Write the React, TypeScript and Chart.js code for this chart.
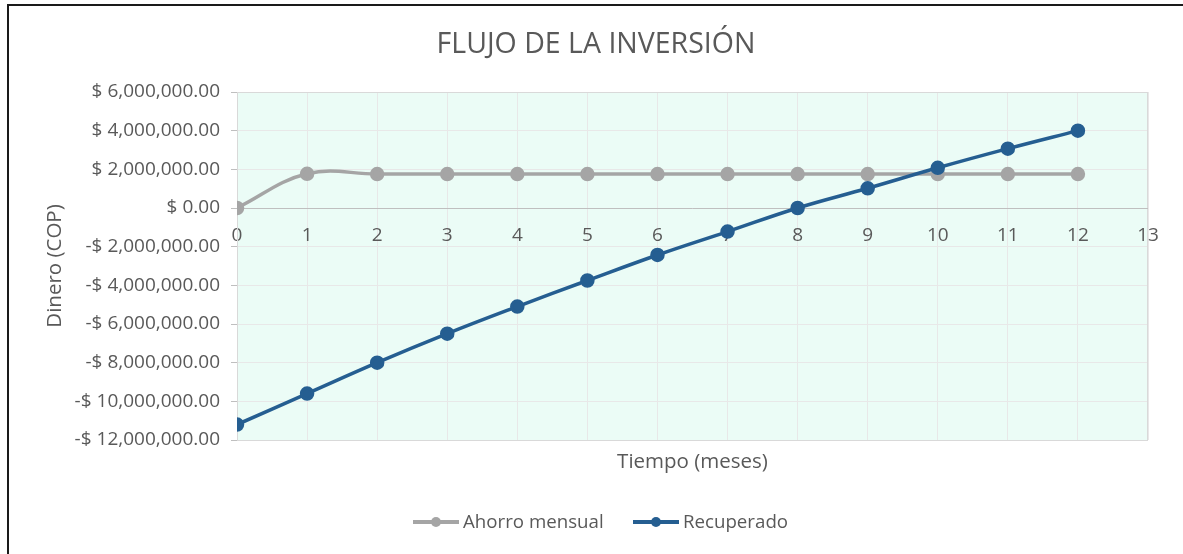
import React, { useEffect, useRef } from "react";
import { Chart, registerables } from "chart.js";

Chart.register(...registerables);

const months = [0, 1, 2, 3, 4, 5, 6, 7, 8, 9, 10, 11, 12];
const ahorroMensual = [0, 1770000, 1755000, 1755000, 1755000, 1755000, 1755000, 1755000, 1755000, 1755000, 1755000, 1755000, 1755000];
const recuperado = [-11200000, -9600000, -8000000, -6500000, -5100000, -3750000, -2430000, -1220000, 0, 1020000, 2080000, 3070000, 4000000];
const seriesNames = ["Ahorro mensual", "Recuperado"];
const seriesColors = ["#A5A5A5", "#255E91"];
const titleText = "FLUJO DE LA INVERSIÓN";
const xTitle = "Tiempo (meses)";
const yTitle = "Dinero (COP)";
const yMin = -12000000;
const yMax = 6000000;
const yStep = 2000000;
const xMin = 0;
const xMax = 13;

const FONT = "'Open Sans', sans-serif";
const TEXT = "#595959";

function fmtMoney(v: number): string {
  const n = Math.abs(v);
  const s = n.toLocaleString("en-US", { minimumFractionDigits: 2, maximumFractionDigits: 2 });
  return (v < 0 ? "-" : "") + "$ " + s;
}

const decorPlugin = {
  id: "decor",
  beforeDraw(chart: any) {
    const { ctx, chartArea, width, height } = chart;
    ctx.save();
    ctx.fillStyle = "#FFFFFF";
    ctx.fillRect(0, 0, width, height);
    ctx.fillStyle = "#1A1A1A";
    ctx.fillRect(7, 4, 2, height - 4);
    ctx.fillRect(7, 4, width - 7, 2);
    ctx.fillStyle = "#EBFCF6";
    ctx.fillRect(chartArea.left, chartArea.top, chartArea.right - chartArea.left, chartArea.bottom - chartArea.top);
    ctx.restore();
  },
  beforeDatasetsDraw(chart: any) {
    const { ctx, chartArea } = chart;
    ctx.save();
    ctx.strokeStyle = "#D9D9D9";
    ctx.lineWidth = 1;
    ctx.strokeRect(chartArea.left + 0.5, chartArea.top + 0.5, chartArea.right - chartArea.left - 1, chartArea.bottom - chartArea.top);
    const y0 = Math.round(chart.scales.y.getPixelForValue(0)) + 0.5;
    ctx.strokeStyle = "#BFBFBF";
    ctx.beginPath();
    ctx.moveTo(chartArea.left, y0);
    ctx.lineTo(chartArea.right, y0);
    ctx.stroke();
    ctx.restore();
  },
  afterDraw(chart: any) {
    const { ctx, chartArea, width, height } = chart;
    ctx.save();
    ctx.fillStyle = "#FFFFFF";
    ctx.fillRect(1160, 6, width - 1160, height - 6);
    ctx.fillStyle = TEXT;
    ctx.textAlign = "center";
    ctx.textBaseline = "middle";
    ctx.font = `28.5px ${FONT}`;
    ctx.fillText(titleText, 596, 45);
    ctx.font = `20.5px ${FONT}`;
    ctx.fillText(xTitle, (chartArea.left + chartArea.right) / 2, 462);
    ctx.save();
    ctx.translate(55, (chartArea.top + chartArea.bottom) / 2);
    ctx.rotate(-Math.PI / 2);
    ctx.fillText(yTitle, 0, 0);
    ctx.restore();
    ctx.font = `18.7px ${FONT}`;
    ctx.textAlign = "left";
    const items = [
      { x: 413, name: seriesNames[0], color: seriesColors[0] },
      { x: 633, name: seriesNames[1], color: seriesColors[1] },
    ];
    const ly = 522;
    for (const it of items) {
      ctx.strokeStyle = it.color;
      ctx.lineWidth = 4;
      ctx.beginPath();
      ctx.moveTo(it.x, ly);
      ctx.lineTo(it.x + 46, ly);
      ctx.stroke();
      ctx.fillStyle = it.color;
      ctx.beginPath();
      ctx.arc(it.x + 23, ly, 5, 0, Math.PI * 2);
      ctx.fill();
      ctx.fillStyle = TEXT;
      ctx.fillText(it.name, it.x + 50, ly + 1);
    }
    ctx.restore();
  },
};

export default function App() {
  const ref = useRef<HTMLCanvasElement | null>(null);
  useEffect(() => {
    if (!ref.current) return;
    document.body.style.margin = "0";
    document.body.style.overflow = "hidden";
    const chart = new Chart(ref.current, {
      type: "line",
      data: {
        datasets: [
          {
            label: seriesNames[0],
            data: months.map((m, i) => ({ x: m, y: ahorroMensual[i] })),
            borderColor: seriesColors[0],
            backgroundColor: seriesColors[0],
            borderWidth: 3.5,
            pointRadius: 5.5,
            pointHoverRadius: 5.5,
            tension: 0.4,
            order: 1,
          },
          {
            label: seriesNames[1],
            data: months.map((m, i) => ({ x: m, y: recuperado[i] })),
            borderColor: seriesColors[1],
            backgroundColor: seriesColors[1],
            borderWidth: 3.5,
            pointRadius: 5.5,
            pointHoverRadius: 5.5,
            tension: 0.4,
            order: 0,
          },
        ],
      },
      options: {
        animation: false,
        responsive: false,
        maintainAspectRatio: false,
        devicePixelRatio: 1,
        layout: { padding: { left: 0, right: 35, top: 92, bottom: 114 } },
        plugins: {
          legend: { display: false },
          title: { display: false },
          tooltip: { enabled: false },
        },
        scales: {
          x: {
            type: "linear",
            position: { y: 0 } as any,
            min: xMin,
            max: xMax,
            ticks: {
              stepSize: 1,
              autoSkip: false,
              maxRotation: 0,
              padding: 16,
              color: TEXT,
              font: { family: FONT, size: 19 },
            },
            grid: { color: "#E8E8E8", drawTicks: false },
            border: { display: false },
          },
          y: {
            type: "linear",
            min: yMin,
            max: yMax,
            afterFit(scale: any) {
              scale.width = 237;
            },
            ticks: {
              stepSize: yStep,
              padding: 11,
              color: TEXT,
              font: { family: FONT, size: 19 },
              callback: (v: any) => fmtMoney(Number(v)),
            },
            grid: { color: "#E8E8E8", tickColor: "#BFBFBF", tickLength: 6 },
            border: { display: true, color: "#D0D0D0" },
          },
        },
      },
      plugins: [decorPlugin],
    });
    return () => chart.destroy();
  }, []);
  return (
    <canvas
      ref={ref}
      width={1183}
      height={554}
      style={{ position: "fixed", left: 0, top: 0, width: 1183, height: 554, display: "block" }}
    />
  );
}
